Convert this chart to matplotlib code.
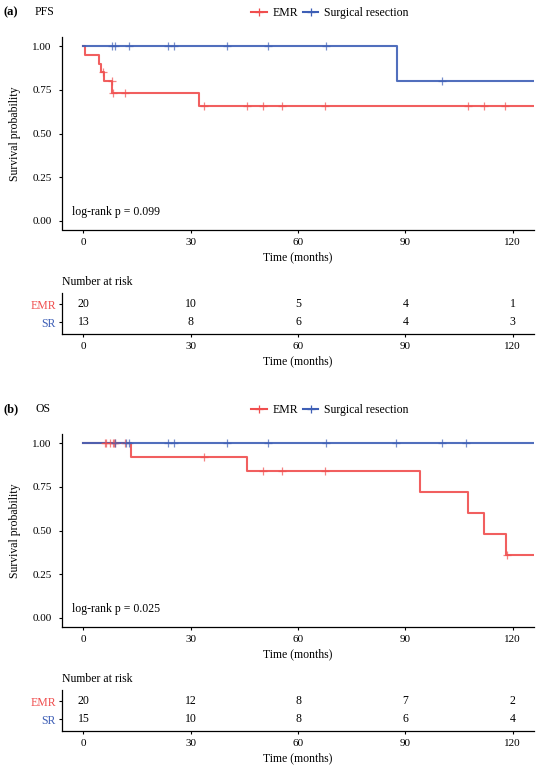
import numpy as np
import matplotlib
matplotlib.use("Agg")
import matplotlib.pyplot as plt
from matplotlib.lines import Line2D

plt.rcParams.update({
    "font.family": "Liberation Serif",
    "font.size": 8.5,
    "axes.linewidth": 0.9,
    "xtick.major.width": 0.8,
    "ytick.major.width": 0.8,
    "xtick.major.size": 2.4,
    "ytick.major.size": 2.4,
    "xtick.labelsize": 8,
    "ytick.labelsize": 8,
})

RED = "#F04E4E"
BLUE = "#3E5FB6"

# ---- data ----
# (a) PFS
pfs_emr_times = [0, 0.4, 4.3, 4.8, 5.8, 8.1, 32.2]
pfs_emr_surv = [1.0, 0.95, 0.90, 0.85, 0.80, 0.733, 0.66]
pfs_emr_censor = [5.5, 7.9, 8.4, 11.6, 33.6, 45.6, 50.3, 55.4, 67.5, 107.5, 112.0, 118.0]
pfs_sr_times = [0, 87.6]
pfs_sr_surv = [1.0, 0.80]
pfs_sr_censor = [8.1, 8.8, 12.6, 23.6, 25.2, 40.1, 51.7, 67.9, 100.2]

# (b) OS
os_emr_times = [0, 13.4, 45.6, 94.2, 107.5, 112.1, 118.2]
os_emr_surv = [1.0, 0.923, 0.84, 0.72, 0.60, 0.48, 0.36]
os_emr_censor = [6.0, 6.4, 7.3, 8.2, 8.6, 8.9, 11.6, 33.6, 50.3, 55.4, 67.5, 118.4]
os_sr_times = [0]
os_sr_surv = [1.0]
os_sr_censor = [8.8, 11.9, 12.8, 23.6, 25.2, 40.1, 51.7, 67.9, 87.4, 100.2, 107.0]

risk_times = [0, 30, 60, 90, 120]
pfs_risk_emr = [20, 10, 5, 4, 1]
pfs_risk_sr = [13, 8, 6, 4, 3]
os_risk_emr = [20, 12, 8, 7, 2]
os_risk_sr = [15, 10, 8, 6, 4]

pvals = ["log-rank p = 0.099", "log-rank p = 0.025"]
panel_tags = ["(a)", "(b)"]
panel_titles = ["PFS", "OS"]

W, H = 543, 768
XMIN, XMAX = -6, 126

fig = plt.figure(figsize=(W / 100, H / 100), dpi=100)


def px_axes(left, top, right, bottom):
    return fig.add_axes([left / W, 1 - bottom / H, (right - left) / W, (bottom - top) / H])


def draw_curve(ax, times, surv, cens, color):
    t = list(times) + [XMAX + 5]
    s = list(surv) + [surv[-1]]
    ax.step(t, s, where="post", color=color, lw=1.5, alpha=0.9, zorder=3)
    idx = np.searchsorted(times, cens, side="right") - 1
    ax.plot(cens, np.array(surv)[idx], ls="none", marker="+", ms=6, mew=0.9,
            color=color, alpha=0.7, zorder=4)


def style_time_axis(ax):
    ax.set_xlim(XMIN, XMAX)
    ax.set_xticks(risk_times)
    ax.spines["top"].set_visible(False)
    ax.spines["right"].set_visible(False)
    ax.tick_params(axis="x", pad=4)
    ax.set_xlabel("Time (months)", fontsize=8.5, labelpad=3)


panels = [
    (pfs_emr_times, pfs_emr_surv, pfs_emr_censor, pfs_sr_times, pfs_sr_surv, pfs_sr_censor,
     pfs_risk_emr, pfs_risk_sr),
    (os_emr_times, os_emr_surv, os_emr_censor, os_sr_times, os_sr_surv, os_sr_censor,
     os_risk_emr, os_risk_sr),
]

offset = [0, 397]
for i, p in enumerate(panels):
    et, es, ec, st, ss, sc, re, rs = p
    dy = offset[i]

    # main KM plot
    ax = px_axes(62, 37.5 + dy, 534, 229.5 + dy)
    draw_curve(ax, et, es, ec, RED)
    draw_curve(ax, st, ss, sc, BLUE)
    style_time_axis(ax)
    ax.set_ylim(-0.05, 1.05)
    ax.set_yticks([0, 0.25, 0.5, 0.75, 1.0])
    ax.set_yticklabels(["0.00", "0.25", "0.50", "0.75", "1.00"])
    ax.tick_params(axis="y", pad=5)
    ax.set_ylabel("Survival probability", fontsize=8.5, labelpad=8)
    ax.text(-3.2, 0.05, pvals[i], ha="left", va="center", fontsize=8.5)

    # header: tag, title, legend
    fig.text(3 / W, 1 - (12 + dy) / H, panel_tags[i], fontweight="bold", fontsize=9,
             ha="left", va="center")
    fig.text(35 / W, 1 - (12 + dy) / H, panel_titles[i], fontsize=8.5,
             ha="left", va="center")
    handles = [Line2D([], [], color=RED, lw=1.5, marker="+", ms=6, mew=0.9),
               Line2D([], [], color=BLUE, lw=1.5, marker="+", ms=6, mew=0.9)]
    fig.legend(handles, ["EMR", "Surgical resection"], loc="center",
               bbox_to_anchor=(330 / W, 1 - (13 + dy) / H), ncol=2, frameon=False,
               fontsize=8.5, handlelength=1.3, handletextpad=0.5, columnspacing=0.4)

    # risk table
    tab = px_axes(62, 293 + dy, 534, 333.5 + dy)
    style_time_axis(tab)
    tab.set_ylim(0.39, 2.61)
    tab.set_yticks([1, 2])
    tab.set_yticklabels(["SR", "EMR"], fontsize=8.5)
    for lab, col in zip(tab.get_yticklabels(), [BLUE, RED]):
        lab.set_color(col)
    tab.tick_params(axis="y", pad=2)
    for t, ne, ns in zip(risk_times, re, rs):
        tab.text(t, 2, str(ne), ha="center", va="center", fontsize=8.5)
        tab.text(t, 1, str(ns), ha="center", va="center", fontsize=8.5)
    fig.text(62 / W, 1 - (282 + dy) / H, "Number at risk", fontsize=8.5,
             ha="left", va="center")

fig.savefig("out.png", dpi=100)
